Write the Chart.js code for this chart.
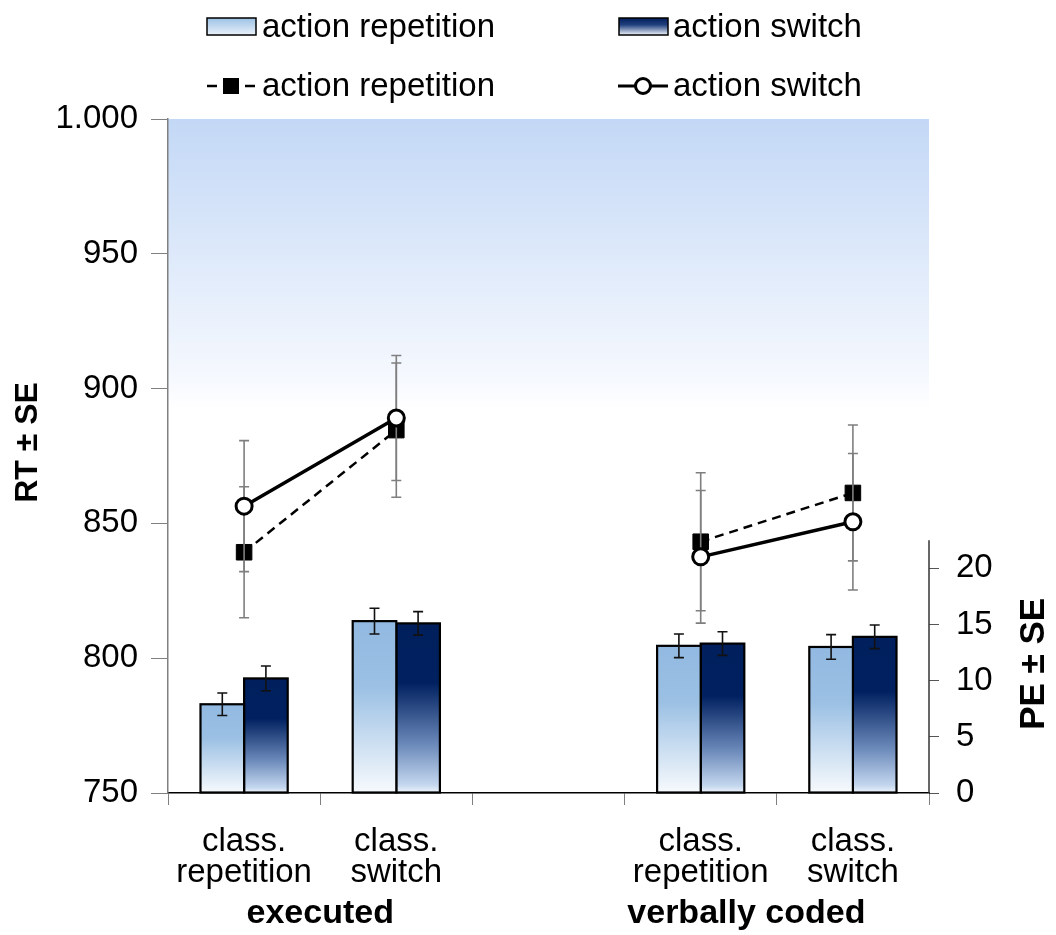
<!DOCTYPE html>
<html>
<head>
<meta charset="utf-8">
<script src="https://cdn.jsdelivr.net/npm/chart.js@4.4.1/dist/chart.umd.min.js"></script>
<style>
    html, body { margin: 0; padding: 0; background: #ffffff; }
    canvas { display: block; }
</style>
</head>
<body>
<canvas id="chart_rt_pe" width="1056" height="935"></canvas>
<script>
// categories on the x axis (the empty one is the gap between the two groups)
const category_labels = [['class.', 'repetition'], ['class.', 'switch'], '', ['class.', 'repetition'], ['class.', 'switch']];
const group_labels = ['executed', 'verbally coded'];
const group_anchor = [0.5, 3.3];   // category position under which each group label is centred

// error rates (bars, right axis)
const pe_repetition = [7.9, 15.3, null, 13.1, 13.0];
const pe_repetition_se = [1.0, 1.15, null, 1.05, 1.1];
const pe_switch = [10.2, 15.1, null, 13.3, 13.9];
const pe_switch_se = [1.1, 1.05, null, 1.05, 1.05];

// reaction times (lines, left axis)
const rt_repetition = [839.3, 884.6, null, 843.2, 861.3];
const rt_repetition_se = [24.3, 24.9, null, 25.6, 25.2];
const rt_switch = [856.4, 889.1, null, 837.6, 850.6];
const rt_switch_se = [24.3, 23.2, null, 24.6, 25.3];

const rt_ticks = [750, 800, 850, 900, 950, 1000];
const pe_ticks = [0, 5, 10, 15, 20];

const font_family = '"Liberation Sans", Arial, Helvetica, sans-serif';

const light_stops = [[0, '#92b9e1'], [0.38, '#9bc0e4'], [1, '#f7fafd']];
const dark_stops = [[0, '#001f5c'], [0.35, '#002060'], [0.72, '#6d8bbb'], [0.95, '#c3d6ee'], [1, '#eef4fb']];

function bar_fill(info, stops) {
    const chart = info.chart;
    const scale = chart.scales.y_pe;
    if (!scale || info.type !== 'data' || info.raw == null) {
        return stops[1][1];
    }
    const top = scale.getPixelForValue(info.raw);
    const base = scale.getPixelForValue(0);
    if (!isFinite(top) || !isFinite(base) || base - top < 1) {
        return stops[1][1];
    }
    const grad = chart.ctx.createLinearGradient(0, top, 0, base);
    stops.forEach((s) => grad.addColorStop(s[0], s[1]));
    return grad;
}

function draw_outlines(chart, index) {
    const meta = chart.getDatasetMeta(index);
    const ctx = chart.ctx;
    ctx.save();
    ctx.strokeStyle = '#000000';
    ctx.lineWidth = 2.2;
    meta.data.forEach((el, i) => {
        if (chart.data.datasets[index].data[i] == null) {
            return;
        }
        const p = el.getProps(['x', 'y', 'base', 'width'], true);
        ctx.strokeRect(p.x - p.width / 2, p.y, p.width, p.base - p.y);
    });
    ctx.restore();
}

function draw_errors(chart, index) {
    const ds = chart.data.datasets[index];
    if (!ds.errors) {
        return;
    }
    const meta = chart.getDatasetMeta(index);
    const scale = chart.scales[meta.yAxisID];
    const ctx = chart.ctx;
    ctx.save();
    ctx.strokeStyle = ds.errorColor;
    ctx.lineWidth = 1.6;
    meta.data.forEach((el, i) => {
        const v = ds.data[i];
        const e = ds.errors[i];
        if (v == null || e == null) {
            return;
        }
        const x = el.x;
        const y_hi = scale.getPixelForValue(v + e);
        const y_lo = scale.getPixelForValue(v - e);
        ctx.beginPath();
        ctx.moveTo(x, y_hi);
        ctx.lineTo(x, y_lo);
        ctx.moveTo(x - 5, y_hi);
        ctx.lineTo(x + 5, y_hi);
        ctx.moveTo(x - 5, y_lo);
        ctx.lineTo(x + 5, y_lo);
        ctx.stroke();
    });
    ctx.restore();
}

const error_bar_plugin = {
    id: 'error_bars',
    beforeDatasetDraw(chart, args) {
        if (chart.data.datasets[args.index].type === 'line') {
            draw_errors(chart, args.index);
        }
    },
    afterDatasetDraw(chart, args) {
        if (chart.data.datasets[args.index].type !== 'line') {
            draw_outlines(chart, args.index);
            draw_errors(chart, args.index);
        }
    },
};

const backdrop_plugin = {
    id: 'backdrop',
    beforeDraw(chart) {
        const area = chart.chartArea;
        const y_rt = chart.scales.y_rt;
        const top = y_rt.getPixelForValue(1000);
        const bottom = y_rt.getPixelForValue(892);
        const ctx = chart.ctx;
        const grad = ctx.createLinearGradient(0, top, 0, bottom);
        grad.addColorStop(0, '#c3d8f6');
        grad.addColorStop(0.9, '#f6f9fe');
        grad.addColorStop(1, '#ffffff');
        ctx.save();
        ctx.fillStyle = grad;
        ctx.fillRect(area.left, top, area.right - area.left, bottom - top);
        ctx.restore();
    },
};

function swatch(ctx, x, y, w, h, stops) {
    const grad = ctx.createLinearGradient(0, y, 0, y + h);
    stops.forEach((s) => grad.addColorStop(s[0], s[1]));
    ctx.fillStyle = grad;
    ctx.fillRect(x, y, w, h);
    ctx.strokeStyle = '#000000';
    ctx.lineWidth = 1.5;
    ctx.strokeRect(x, y, w, h);
}

const decor_plugin = {
    id: 'decor',
    afterDraw(chart) {
        const ctx = chart.ctx;
        const area = chart.chartArea;
        const y_rt = chart.scales.y_rt;
        const y_pe = chart.scales.y_pe;
        const x = chart.scales.x;
        ctx.save();

        // right axis line only over the visible PE range
        ctx.strokeStyle = '#333333';
        ctx.lineWidth = 1.5;
        ctx.beginPath();
        ctx.moveTo(area.right, y_pe.getPixelForValue(0));
        ctx.lineTo(area.right, y_pe.getPixelForValue(22.5));
        ctx.stroke();

        // axis titles
        ctx.fillStyle = '#000000';
        ctx.textAlign = 'center';
        ctx.textBaseline = 'middle';
        ctx.font = 'bold 32px ' + font_family;
        ctx.save();
        ctx.translate(28, y_rt.getPixelForValue(880));
        ctx.rotate(-Math.PI / 2);
        ctx.fillText('RT ± SE', 0, 0);
        ctx.restore();
        ctx.font = 'bold 35px ' + font_family;
        ctx.save();
        ctx.translate(1034, y_pe.getPixelForValue(11.5));
        ctx.rotate(-Math.PI / 2);
        ctx.fillText('PE ± SE', 0, 0);
        ctx.restore();

        // group labels under the categories
        ctx.font = 'bold 34px ' + font_family;
        group_labels.forEach((label, i) => {
            ctx.fillText(label, x.getPixelForValue(group_anchor[i]), 914);
        });

        // legend
        ctx.font = '33px ' + font_family;
        ctx.textAlign = 'left';
        swatch(ctx, 207, 18, 49, 17, [[0, '#9cc1e4'], [1, '#eaf1fa']]);
        ctx.fillStyle = '#000000';
        ctx.fillText('action repetition', 262, 28);
        swatch(ctx, 619, 18, 49, 17, [[0, '#001f5c'], [0.4, '#203f7c'], [1, '#f0f5fb']]);
        ctx.fillStyle = '#000000';
        ctx.fillText('action switch', 673, 28);

        ctx.strokeStyle = '#000000';
        ctx.lineWidth = 2.5;
        ctx.beginPath();
        ctx.moveTo(207, 86);
        ctx.lineTo(217, 86);
        ctx.moveTo(245, 86);
        ctx.lineTo(255, 86);
        ctx.stroke();
        ctx.fillRect(223, 78, 16, 16);
        ctx.fillText('action repetition', 262, 87);

        ctx.lineWidth = 3;
        ctx.beginPath();
        ctx.moveTo(618, 86);
        ctx.lineTo(668, 86);
        ctx.stroke();
        ctx.beginPath();
        ctx.arc(643, 86, 7.5, 0, Math.PI * 2);
        ctx.fillStyle = '#ffffff';
        ctx.fill();
        ctx.stroke();
        ctx.fillStyle = '#000000';
        ctx.fillText('action switch', 673, 87);

        ctx.restore();
    },
};

const ctx = document.getElementById('chart_rt_pe').getContext('2d');
new Chart(ctx, {
    type: 'bar',
    data: {
        labels: category_labels,
        datasets: [
            {
                label: 'action repetition (PE)',
                data: pe_repetition,
                errors: pe_repetition_se,
                errorColor: '#111111',
                yAxisID: 'y_pe',
                backgroundColor: (info) => bar_fill(info, light_stops),
                borderWidth: 0,
                categoryPercentage: 0.573,
                barPercentage: 1,
                order: 3,
            },
            {
                label: 'action switch (PE)',
                data: pe_switch,
                errors: pe_switch_se,
                errorColor: '#111111',
                yAxisID: 'y_pe',
                backgroundColor: (info) => bar_fill(info, dark_stops),
                borderWidth: 0,
                categoryPercentage: 0.573,
                barPercentage: 1,
                order: 3,
            },
            {
                type: 'line',
                label: 'action repetition (RT)',
                data: rt_repetition,
                errors: rt_repetition_se,
                errorColor: '#7f7f7f',
                yAxisID: 'y_rt',
                borderColor: '#000000',
                borderWidth: 2.5,
                borderDash: [9, 6],
                pointStyle: 'rect',
                pointRadius: 11,
                pointBackgroundColor: '#000000',
                pointBorderColor: '#000000',
                pointBorderWidth: 1,
                spanGaps: false,
                tension: 0,
                order: 2,
            },
            {
                type: 'line',
                label: 'action switch (RT)',
                data: rt_switch,
                errors: rt_switch_se,
                errorColor: '#7f7f7f',
                yAxisID: 'y_rt',
                borderColor: '#000000',
                borderWidth: 3.5,
                pointStyle: 'circle',
                pointRadius: 8,
                pointBackgroundColor: '#ffffff',
                pointBorderColor: '#000000',
                pointBorderWidth: 3,
                spanGaps: false,
                tension: 0,
                order: 1,
            },
        ],
    },
    options: {
        responsive: false,
        animation: false,
        devicePixelRatio: 1,
        layout: { padding: { top: 119, left: 0, right: 0, bottom: 0 } },
        plugins: {
            legend: { display: false },
            tooltip: { enabled: false },
        },
        scales: {
            x: {
                offset: true,
                grid: {
                    display: true,
                    offset: true,
                    drawOnChartArea: false,
                    drawTicks: true,
                    tickLength: 12,
                    color: '#808080',
                },
                border: { color: '#000000', width: 1.5 },
                ticks: {
                    color: '#000000',
                    font: { family: font_family, size: 33, lineHeight: 0.92 },
                    padding: 22,
                    maxRotation: 0,
                    autoSkip: false,
                },
                afterFit(scale) {
                    scale.height = 142;
                },
            },
            y_rt: {
                position: 'left',
                min: 750,
                max: 1000,
                afterBuildTicks(scale) {
                    scale.ticks = rt_ticks.map((v) => ({ value: v }));
                },
                grid: {
                    drawOnChartArea: false,
                    drawTicks: true,
                    tickLength: 17,
                    color: '#808080',
                },
                border: { color: '#808080', width: 1.5 },
                ticks: {
                    color: '#000000',
                    font: { family: font_family, size: 33 },
                    padding: 13,
                    callback: (v) => (v === 1000 ? '1.000' : String(v)),
                },
                afterFit(scale) {
                    scale.width = 168;
                },
            },
            y_pe: {
                position: 'right',
                min: 0,
                max: 60,
                afterBuildTicks(scale) {
                    scale.ticks = pe_ticks.map((v) => ({ value: v }));
                },
                grid: {
                    drawOnChartArea: false,
                    drawTicks: true,
                    tickLength: 10,
                    color: '#555555',
                },
                border: { display: false },
                ticks: {
                    color: '#000000',
                    font: { family: font_family, size: 33 },
                    padding: 17,
                },
                afterFit(scale) {
                    scale.width = 127;
                },
            },
        },
    },
    plugins: [backdrop_plugin, error_bar_plugin, decor_plugin],
});
</script>
</body>
</html>
